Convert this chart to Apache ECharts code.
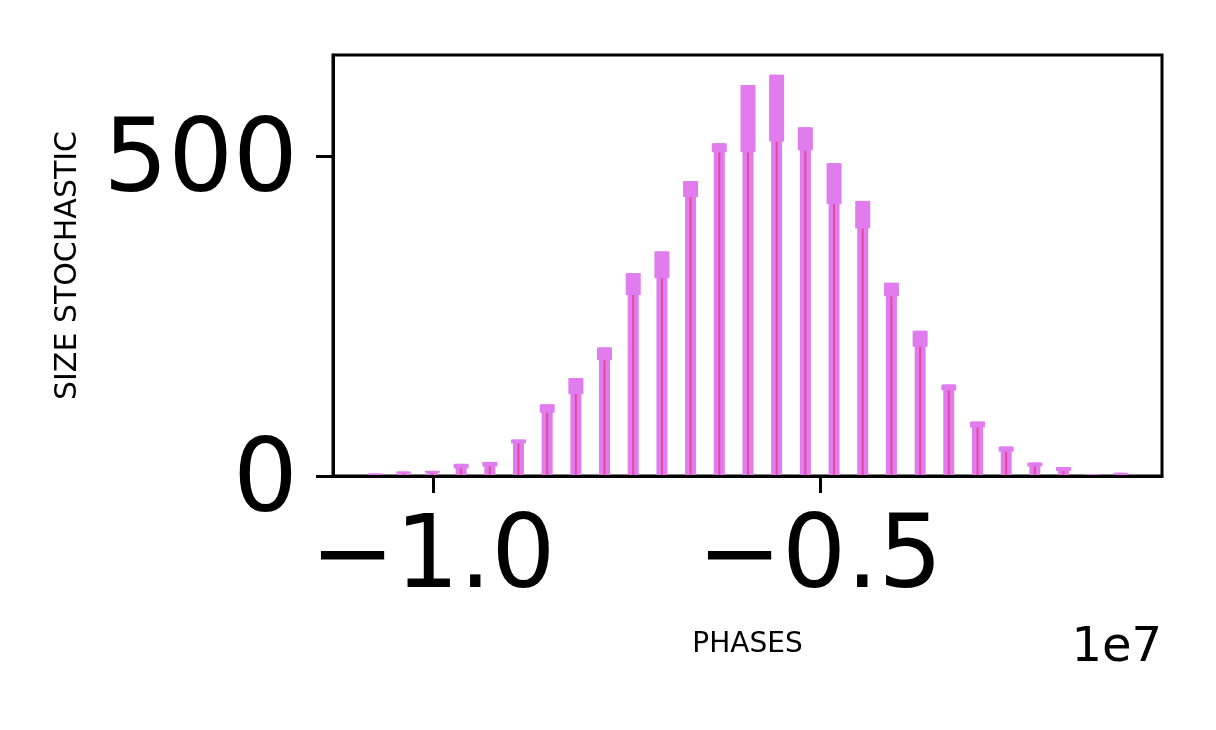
<!DOCTYPE html>
<html>
<head>
<meta charset="utf-8">
<title>SIZE STOCHASTIC vs PHASES</title>
<script src="https://cdn.jsdelivr.net/npm/echarts@6/dist/echarts.min.js"></script>
<style>
  html, body { margin: 0; padding: 0; background: #fff; }
  #chart { width: 1216px; height: 730px; }
</style>
</head>
<body>
<div id="chart"></div>
<script>
// bar centres on the phase axis (raw units, axis shows them in 1e7)
const phases = [
  -10749000, -10378000, -10008000, -9637000, -9266000, -8896000, -8525000,
  -8154000, -7784000, -7413000, -7042000, -6672000, -6301000, -5930000,
  -5560000, -5189000, -4818000, -4448000, -4077000, -3706000, -3336000,
  -2965000, -2594000, -2224000, -1853000, -1482000, -1112000
];
// top of each bar / box
const sizeHigh = [4, 7, 8, 19, 22, 57, 112, 153, 201, 317, 351, 461, 520, 611,
  627, 545, 489, 430, 302, 227, 143, 85, 46, 21, 14, 3, 5];
// bottom of the wide box (the dark stem runs up to here)
const sizeLow = [2, 4, 5, 12, 15, 51, 99, 128, 181, 283, 309, 436, 506, 506,
  523, 509, 425, 387, 281, 202, 134, 76, 38, 15, 8, 1, 2];

const xTicks = [-10000000, -5000000];
const yTicks = [0, 500];

const chart = echarts.init(document.getElementById('chart'));

const barColor = '#e07cee';
const stemColor = '#e5479d';
const font = 'DejaVu Sans';

function renderBar(params, api) {
  const x = api.value(0);
  const lo = api.value(1);
  const hi = api.value(2);
  const base = api.coord([x, 0]);
  const pLo = api.coord([x, lo]);
  const pHi = api.coord([x, hi]);
  const narrow = 11, wide = 15, stem = 2;
  return {
    type: 'group',
    children: [
      {
        type: 'rect',
        shape: { x: base[0] - narrow / 2, y: pHi[1], width: narrow, height: base[1] - pHi[1] },
        style: { fill: barColor }
      },
      {
        type: 'rect',
        shape: { x: base[0] - stem / 2, y: pLo[1], width: stem, height: base[1] - pLo[1] },
        style: { fill: stemColor }
      },
      {
        type: 'rect',
        shape: { x: base[0] - wide / 2, y: pHi[1], width: wide, height: pLo[1] - pHi[1] },
        style: { fill: barColor }
      }
    ]
  };
}

const option = {
  backgroundColor: '#fff',
  animation: false,
  grid: {
    left: 333,
    right: 54,
    top: 55,
    bottom: 254,
    show: true,
    borderColor: '#000',
    borderWidth: 3,
    backgroundColor: 'transparent'
  },
  xAxis: {
    type: 'value',
    min: -11292000,
    max: -581000,
    z: 10,
    name: 'PHASES',
    nameLocation: 'middle',
    nameGap: 155,
    nameTextStyle: { fontFamily: font, fontSize: 28, color: '#000' },
    axisLine: { show: true, onZero: false, lineStyle: { color: '#000', width: 3 } },
    axisTick: { show: true, length: 17, lineStyle: { color: '#000', width: 3 }, customValues: xTicks },
    axisLabel: {
      fontFamily: font,
      fontSize: 101,
      color: '#000',
      margin: 34,
      customValues: xTicks,
      formatter: v => (v / 1e7).toFixed(1).replace('-', '\u2212')
    },
    splitLine: { show: false }
  },
  yAxis: {
    type: 'value',
    min: 0,
    max: 658,
    z: 10,
    name: 'SIZE STOCHASTIC',
    nameLocation: 'middle',
    nameGap: 250,
    nameTextStyle: { fontFamily: font, fontSize: 30, color: '#000' },
    axisLine: { show: true, lineStyle: { color: '#000', width: 3 } },
    axisTick: { show: true, length: 17, lineStyle: { color: '#000', width: 3 }, customValues: yTicks },
    axisLabel: {
      color: '#000',
      margin: 35,
      customValues: yTicks,
      formatter: v => '{t|' + v + '}',
      rich: {
        t: { fontFamily: font, fontSize: 102, color: '#000', padding: [17, 0, 0, 0] }
      }
    },
    splitLine: { show: false }
  },
  graphic: [
    {
      type: 'text',
      right: 54,
      top: 625,
      style: { text: '1e7', fontFamily: font, fontSize: 48, fill: '#000' }
    }
  ],
  series: [
    {
      type: 'custom',
      renderItem: renderBar,
      encode: { x: 0, y: [1, 2] },
      data: phases.map((p, i) => [p, sizeLow[i], sizeHigh[i]])
    }
  ]
};

chart.setOption(option);
</script>
</body>
</html>
